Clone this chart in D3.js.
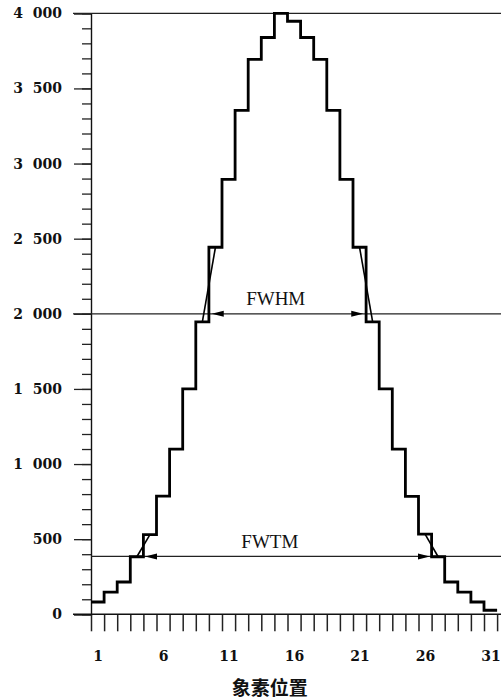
<!DOCTYPE html>
<html>
<head>
<meta charset="utf-8">
<script src="https://cdn.jsdelivr.net/npm/d3@7"></script>
<style>
  body { margin: 0; background: #fff; }
  svg { display: block; }
</style>
</head>
<body>
<script>
// pixel counts
var pixels = [1, 2, 3, 4, 5, 6, 7, 8, 9, 10, 11, 12, 13, 14, 15, 16,
              17, 18, 19, 20, 21, 22, 23, 24, 25, 26, 27, 28, 29, 30, 31];
var counts = [82, 148, 215, 383, 530, 787, 1100, 1500, 1946, 2443, 2895, 3354, 3693, 3839, 4000, 3947,
              3839, 3693, 3354, 2895, 2443, 1946, 1500, 1100, 785, 533, 383, 215, 148, 82, 27];
var xLabels = [1, 6, 11, 16, 21, 26, 31];
var yMajor = [0, 500, 1000, 1500, 2000, 2500, 3000, 3500, 4000];
var yLabels = ["0", "500", "1\u2007000", "1\u2007500", "2\u2007000", "2\u2007500", "3\u2007000", "3\u2007500", "4\u2007000"];

// width markers: name, level, pixel pair interpolated on each side
var widthNames = ["FWHM", "FWTM"];
var widthLevels = [2000, 385];
var leftPairs = [[9, 10], [4, 5]];
var rightPairs = [[21, 22], [26, 27]];

var W = 501, H = 700;
var x = d3.scaleLinear().domain([0.5, 31.5]).range([91, 91 + 31 * 13.1]);
var y = d3.scaleLinear().domain([0, 4000]).range([614.3, 13.3]);

var svg = d3.select("body").append("svg")
    .attr("width", W)
    .attr("height", H);

var numFont = "'DejaVu Serif', serif";

// y axis: minor then major ticks
svg.append("g")
    .attr("transform", "translate(" + x(0.5) + ",0)")
    .call(d3.axisLeft(y).tickValues(d3.range(0, 4001, 100)).tickSize(9).tickFormat(""))
    .call(function(g) { g.select(".domain").remove(); })
    .selectAll("line").attr("stroke", "#222").attr("stroke-width", 1.3);

svg.append("g")
    .attr("transform", "translate(" + x(0.5) + ",0)")
    .call(d3.axisLeft(y).tickValues(yMajor).tickSize(17).tickPadding(12)
      .tickFormat(function(d, i) { return yLabels[i]; }))
    .call(function(g) {
      g.select(".domain").attr("stroke", "#111").attr("stroke-width", 1.4);
      g.selectAll("line").attr("stroke", "#222").attr("stroke-width", 1.3);
      g.selectAll("text")
        .attr("font-family", numFont)
        .attr("font-weight", "bold")
        .attr("font-size", "14px")
        .attr("fill", "#111");
    });

// x axis: boundary ticks, then labels at pixel centres
svg.append("g")
    .attr("transform", "translate(0," + y(0) + ")")
    .call(d3.axisBottom(x).tickValues(d3.range(0.5, 31.6, 1)).tickSize(17).tickFormat(""))
    .call(function(g) { g.select(".domain").remove(); })
    .selectAll("line").attr("stroke", "#222").attr("stroke-width", 1.5);

svg.append("g")
    .attr("transform", "translate(0," + y(0) + ")")
    .call(d3.axisBottom(x).tickValues(xLabels).tickSize(0).tickPadding(37))
    .call(function(g) {
      g.select(".domain").remove();
      g.selectAll("text")
        .attr("font-family", numFont)
        .attr("font-weight", "bold")
        .attr("font-size", "14px")
        .attr("fill", "#111");
    });

svg.append("line")
    .attr("x1", 73).attr("x2", W)
    .attr("y1", y(0)).attr("y2", y(0))
    .attr("stroke", "#111").attr("stroke-width", 1.5);

svg.append("text")
    .attr("x", x(14.15))
    .attr("y", 686.5)
    .attr("text-anchor", "middle")
    .attr("dominant-baseline", "central")
    .attr("font-family", "'Noto Sans CJK SC', sans-serif")
    .attr("font-weight", "bold")
    .attr("font-size", "19px")
    .attr("fill", "#111")
    .text("象素位置");

// reference lines at max and half max
[4000, 2000].forEach(function(v) {
  svg.append("line")
      .attr("x1", 73).attr("x2", W)
      .attr("y1", y(v)).attr("y2", y(v))
      .attr("stroke", "#222").attr("stroke-width", 1.3);
});
svg.append("line")
    .attr("x1", x(0.5)).attr("x2", W)
    .attr("y1", y(widthLevels[1])).attr("y2", y(widthLevels[1]))
    .attr("stroke", "#222").attr("stroke-width", 1.3);

// step histogram
var steps = pixels.map(function(p, i) { return [p - 0.5, counts[i]]; });
steps.push([pixels[pixels.length - 1] + 0.5, counts[counts.length - 1]]);

var stepLine = d3.line()
    .x(function(d) { return x(d[0]); })
    .y(function(d) { return y(d[1]); })
    .curve(d3.curveStepAfter);

svg.append("path")
    .datum(steps)
    .attr("d", stepLine)
    .attr("fill", "none")
    .attr("stroke", "#000")
    .attr("stroke-width", 2.8)
    .attr("stroke-linejoin", "miter");

// interpolation between pixel centres, and arrows at the crossings
function centre(p) { return [x(p), y(counts[p - 1])]; }
function crossing(pair, level) {
  var a = counts[pair[0] - 1], b = counts[pair[1] - 1];
  var t = (level - a) / (b - a);
  return x(pair[0] + t);
}

widthNames.forEach(function(name, i) {
  var level = widthLevels[i];
  [leftPairs[i], rightPairs[i]].forEach(function(pair, side) {
    var a = centre(pair[0]), b = centre(pair[1]);
    svg.append("line")
        .attr("x1", a[0]).attr("y1", a[1])
        .attr("x2", b[0]).attr("y2", b[1])
        .attr("stroke", "#000").attr("stroke-width", 1.6);

    var cx = crossing(pair, level);
    var dir = side === 0 ? 1 : -1;          // left arrow points left, right arrow points right
    var tip = cx + dir * 8;
    var yy = y(level);
    svg.append("path")
        .attr("d", "M" + tip + "," + yy +
                   "L" + (tip + dir * 12) + "," + (yy - 3) +
                   "L" + (tip + dir * 12) + "," + (yy + 3) + "Z")
        .attr("fill", "#000");
  });

  svg.append("text")
      .attr("x", i === 0 ? x(14.6) : x(14.15))
      .attr("y", y(level) - (i === 0 ? 9.3 : 8))
      .attr("text-anchor", "middle")
      .attr("font-family", "'Liberation Serif', serif")
      .attr("font-size", "19px")
      .attr("fill", "#111")
      .text(name);
});
</script>
</body>
</html>
